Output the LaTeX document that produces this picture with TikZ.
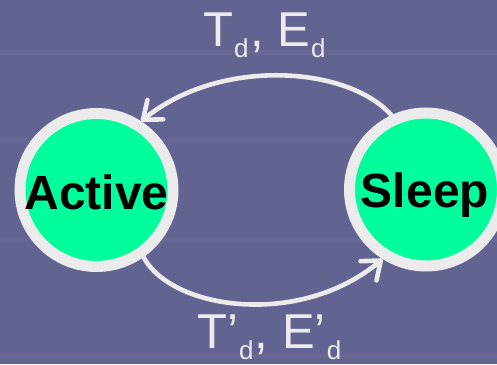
\documentclass[tikz,border=0pt]{standalone}
\usepackage{fontspec}
\setmainfont{Liberation Sans}
\usetikzlibrary{arrows.meta}
\definecolor{bgc}{RGB}{99,99,146}
\definecolor{stripe}{RGB}{104,102,148}
\definecolor{stategreen}{RGB}{0,255,156}
\definecolor{ringc}{RGB}{235,235,235}
\tikzset{
  statecircle/.style={circle, draw=ringc, fill=stategreen, line width=11pt,
    minimum size=153pt, inner sep=0pt},
  statetext/.style={font=\fontsize{48}{48}\selectfont\bfseries, text=black,
    anchor=base, inner sep=0pt},
  transition/.style={draw=ringc, line width=4.6pt, line cap=round,
    -{Straight Barb[length=16pt,width=25pt,line cap=round,line join=round]}},
  edgelabel/.style={font=\fontsize{49}{49}\selectfont, text=ringc,
    anchor=base west, inner sep=0pt}
}
\newcommand{\sbd}{\raisebox{-11pt}{\fontsize{26}{26}\selectfont\hspace{1pt}d\hspace{1.5pt}}}
\begin{document}
\begin{tikzpicture}[x=1pt,y=1pt]
  \useasboundingbox (0,0) rectangle (497,364);
  \fill[bgc] (0,0) rectangle (497,364);
  \fill[stripe] (0,309) rectangle (497,314);
  \fill[stripe] (0,222) rectangle (497,226);
  \fill[stripe] (0,122) rectangle (497,126);
  \fill[stripe] (0,6) rectangle (497,10);
  \begin{scope}
    \clip (0,0) rectangle (497,364);
    \node[statecircle] (a) at (96.5,174) {};
    \node[statecircle] (s) at (426,174.5) {};
  \end{scope}
  \node[statetext] (at) at (96.5,154) {Active};
  \node[statetext] (st) at (425,156) {Sleep};
  \draw[transition] (s.115) .. controls (348,298) and (220,307) .. (a.57);
  \draw[transition] (a.-55) .. controls (172,54) and (300,36) .. (s.238);
  \node[edgelabel] (top) at (203,317) {T\sbd, E\sbd};
  \node[edgelabel] (bot) at (197,16) {T’\sbd, E’\sbd};
\end{tikzpicture}
\end{document}
